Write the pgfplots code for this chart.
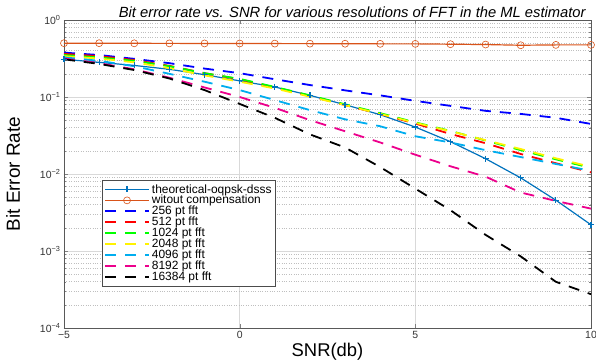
\documentclass[border=0pt]{standalone}
\usepackage{pgfplots}
\pgfplotsset{compat=1.18}
\usepackage{fontspec}
\setmainfont{Liberation Sans}
\definecolor{mblue}{rgb}{0,0.447,0.741}
\definecolor{morange}{rgb}{0.85,0.325,0.098}
\definecolor{gridgray}{rgb}{0.85,0.85,0.85}
\begin{document}
\begin{tikzpicture}
\begin{axis}[
  scale only axis,
  width=527bp, height=308bp,
  xmin=-5, xmax=10, ymin=1e-4, ymax=1,
  ymode=log,
  xtick={-5,0,5,10},
  xticklabels={\textminus 5,0,5,10},
  ytick={1e-4,1e-3,1e-2,1e-1,1},
  yticklabels={10\textsuperscript{\textminus 4},10\textsuperscript{\textminus 3},10\textsuperscript{\textminus 2},10\textsuperscript{\textminus 1},10\textsuperscript{0}},
  tick label style={font=\fontsize{10.5}{12}\selectfont, text=black!80},
  tick align=inside,
  major tick length=4bp,
  minor tick length=2bp,
  axis line style={black!65, line width=0.5pt},
  xmajorgrids, ymajorgrids, yminorgrids,
  major grid style={gridgray, line width=0.5pt},
  minor grid style={black!25, dotted, line width=0.4pt},
  xlabel={SNR(db)},
  ylabel={Bit Error Rate},
  xlabel style={font=\fontsize{18.5}{20}\selectfont, yshift=3bp},
  ylabel style={font=\fontsize{19}{21}\selectfont, yshift=13bp},
  title={\textit{Bit error rate vs. SNR for various resolutions of FFT in the ML estimator}},
  title style={font=\fontsize{14.8}{16}\selectfont, yshift=-7bp, xshift=25bp},
  legend style={at={(0.072,0.48)}, anchor=north west, font=\fontsize{12}{12.5}\selectfont,
    draw=black!70, fill=white, inner sep=2pt, row sep=-3.2pt, cells={anchor=west}},
  legend image code/.code={%
    \draw[mark repeat=2, mark phase=2, #1] plot coordinates {(0bp,0bp) (22bp,0bp) (44bp,0bp)};},
  dashedline/.style={line width=1.8bp, dash pattern=on 11bp off 9bp},
]
\addplot[mblue, line width=1.2pt, mark=+, mark size=3bp, mark options={solid}] coordinates {
(-5,0.309) (-4,0.282) (-3,0.257) (-2,0.229) (-1,0.195) (0,0.162) (1,0.135) (2,0.105)
(3,0.0794) (4,0.0589) (5,0.0407) (6,0.0263) (7,0.0158) (8,0.00891) (9,0.00457) (10,0.00219)};
\addlegendentry{theoretical-oqpsk-dsss}
\addplot[morange, line width=1.2pt, mark=o, mark size=3.5bp, mark options={solid, line width=0.6pt}] coordinates {
(-5,0.50) (-4,0.50) (-3,0.498) (-2,0.497) (-1,0.496) (0,0.495) (1,0.494) (2,0.493)
(3,0.492) (4,0.49) (5,0.49) (6,0.485) (7,0.48) (8,0.47) (9,0.475) (10,0.475)};
\addlegendentry{witout compensation}
\addplot[blue, dashedline] coordinates {
(-5,0.377) (-4,0.351) (-3,0.313) (-2,0.275) (-1,0.234) (0,0.204) (1,0.170) (2,0.143)
(3,0.122) (4,0.105) (5,0.0891) (6,0.0767) (7,0.0661) (8,0.0603) (9,0.0537) (10,0.0447)};
\addlegendentry{256 pt fft}
\addplot[red, dashedline] coordinates {
(-5,0.363) (-4,0.339) (-3,0.302) (-2,0.254) (-1,0.204) (0,0.170) (1,0.133) (2,0.1035)
(3,0.0785) (4,0.0603) (5,0.0452) (6,0.0331) (7,0.0251) (8,0.0182) (9,0.0138) (10,0.0105)};
\addlegendentry{512 pt fft}
\addplot[green, dashedline] coordinates {
(-5,0.351) (-4,0.327) (-3,0.295) (-2,0.251) (-1,0.204) (0,0.172) (1,0.135) (2,0.105)
(3,0.0804) (4,0.0617) (5,0.0468) (6,0.0363) (7,0.0272) (8,0.0204) (9,0.0155) (10,0.0120)};
\addlegendentry{1024 pt fft}
\addplot[yellow, dashedline] coordinates {
(-5,0.339) (-4,0.316) (-3,0.282) (-2,0.237) (-1,0.191) (0,0.158) (1,0.129) (2,0.101)
(3,0.0785) (4,0.0603) (5,0.0462) (6,0.0359) (7,0.0275) (8,0.0211) (9,0.0160) (10,0.0124)};
\addlegendentry{2048 pt fft}
\addplot[cyan, dashedline] coordinates {
(-5,0.327) (-4,0.295) (-3,0.251) (-2,0.200) (-1,0.158) (0,0.123) (1,0.0912) (2,0.0676)
(3,0.0513) (4,0.0417) (5,0.0309) (6,0.0257) (7,0.0204) (8,0.0166) (9,0.0135) (10,0.0110)};
\addlegendentry{4096 pt fft}
\addplot[magenta, dashedline] coordinates {
(-5,0.316) (-4,0.275) (-3,0.229) (-2,0.178) (-1,0.133) (0,0.100) (1,0.0724) (2,0.0501)
(3,0.0359) (4,0.0257) (5,0.0178) (6,0.0126) (7,0.00923) (8,0.00575) (9,0.00447) (10,0.00355)};
\addlegendentry{8192 pt fft}
\addplot[black, dashedline] coordinates {
(-5,0.309) (-4,0.269) (-3,0.224) (-2,0.174) (-1,0.123) (0,0.0813) (1,0.0537) (2,0.0327)
(3,0.0221) (4,0.0123) (5,0.00646) (6,0.00339) (7,0.00162) (8,0.000851) (9,0.000398) (10,0.000275)};
\addlegendentry{16384 pt fft}
\end{axis}
\pgfresetboundingbox
\path (current axis.south west) ++(-64bp,-36bp) coordinate (bl);
\path (current axis.north east) ++(5bp,20bp) coordinate (tr);
\useasboundingbox (bl) rectangle (tr);
\end{tikzpicture}
\end{document}
